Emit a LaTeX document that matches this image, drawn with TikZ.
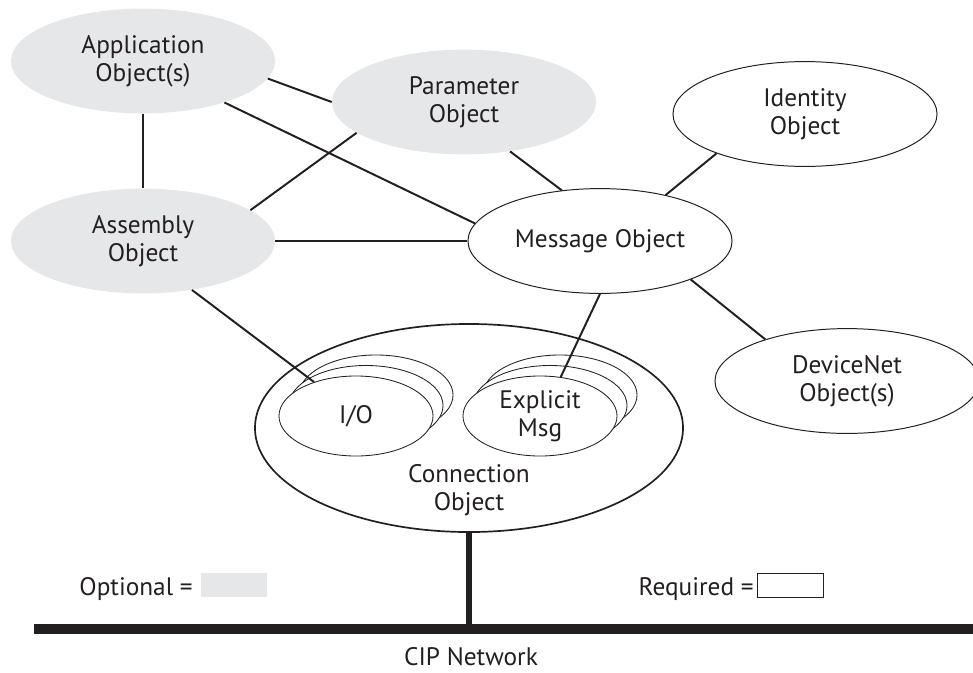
\documentclass[tikz,border=0pt]{standalone}
\usepackage{fontspec}
\setmainfont{PT Sans}
\usepackage{xcolor}
\usepackage{tikz}
\usetikzlibrary{shapes.geometric}

\definecolor{optgray}{HTML}{E6E7E8}
\definecolor{ink}{HTML}{231F20}

\begin{document}
\begin{tikzpicture}[x=0.025cm, y=-0.025cm,
        every node/.style={text=ink, font=\fontsize{18}{20}\selectfont},
        optional/.style={ellipse, fill=optgray, inner sep=0pt, align=center,
            minimum width=6.6cm, minimum height=2.62cm},
        required/.style={ellipse, draw=ink, line width=0.7pt, inner sep=0pt, align=center,
            minimum width=6.6cm, minimum height=2.62cm},
        conn/.style={ellipse, draw=ink, fill=white, line width=0.6pt, inner sep=0pt, align=center,
            minimum width=3.85cm, minimum height=2cm},
        link/.style={draw=ink, line width=1.4pt}]
    \useasboundingbox (0,0) rectangle (973,672);

    \node[optional] (app) at (143,61) {Application\\Object(s)};
    \node[optional] (param) at (464,102) {Parameter\\Object};
    \node[optional] (asm) at (143,241) {Assembly\\Object};
    \node[required] (ident) at (805,114) {Identity\\Object};
    \node[required] (msg) at (600,241) {Message Object};
    \node[required] (dnet) at (847,381) {DeviceNet\\Object(s)};

    % connection object with its instances
    \node[ellipse, draw=ink, line width=1.2pt, minimum width=10.7cm, minimum height=5.2cm] (connobj) at (469,428) {};
    \node[align=center] (connlabel) at (469,490) {Connection\\Object};
    \foreach \d in {2,1} {
        \node[conn] (io\d) at ({356+10*\d},{416-10.5*\d}) {};
        \node[conn] (exp\d) at ({540+10*\d},{416-10.5*\d}) {};
    }
    \node[conn] (io) at (356,416) {I/O};
    \node[conn] (exp) at (540,416) {Explicit\\Msg};

    \draw[link] (app.south) -- (asm.north);
    \draw[link] (app.-8) -- (param.west);
    \draw[link] (app.-27) -- (msg.172);
    \draw[link] (asm.16) -- (param.-164);
    \draw[link] (asm.east) -- (msg.west);
    \draw[link] (param.-47) -- (msg.127);
    \draw[link] (ident.204) -- (msg.35);
    \draw[link] (msg.-23) -- (dnet.153);
    \draw[link] (msg.south) -- (exp.62);
    \draw[link] (asm.-45) -- (io.141);

    % network
    \coordinate (busL) at (34,629);
    \coordinate (busR) at (973,629);
    \draw[ink, line width=0.25cm] (busL) -- (busR);
    \draw[ink, line width=0.13cm] (connobj.south) -- (connobj.south |- busL);
    \node (cip) at (471,657) {CIP Network};

    % legend
    \node[anchor=base east, inner sep=0pt] (optlabel) at (193,595) {Optional =};
    \node[fill=optgray, inner sep=0pt, minimum width=1.65cm, minimum height=0.6cm] (optbox) at (234,585) {};
    \node[anchor=base east, inner sep=0pt] (reqlabel) at (754,595) {Required =};
    \node[draw=ink, line width=0.6pt, inner sep=0pt, minimum width=1.65cm, minimum height=0.6cm] (reqbox) at (790,585) {};
\end{tikzpicture}
\end{document}
